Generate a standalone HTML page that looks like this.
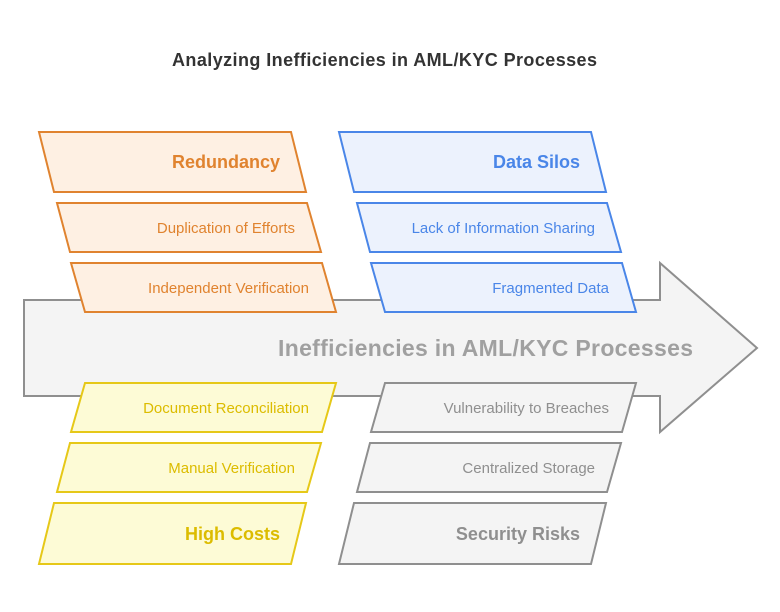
<!DOCTYPE html>
<html><head><meta charset="utf-8"><style>
html,body{margin:0;padding:0;background:#fff;}
svg{display:block;font-family:"Liberation Sans",Arial,sans-serif;}
</style></head><body>
<svg width="780" height="612" viewBox="0 0 780 612" xmlns="http://www.w3.org/2000/svg">
<text x="172" y="66" textLength="425" font-size="18" font-weight="bold" fill="#333">Analyzing Inefficiencies in AML/KYC Processes</text>
<polygon points="24,300 660,300 660,263 757,348 660,432 660,396 24,396" fill="#f4f4f4" stroke="#8f8f8f" stroke-width="2"/>
<text x="278" y="356" textLength="415" font-size="23" font-weight="bold" fill="#a0a0a0">Inefficiencies in AML/KYC Processes</text>
<g stroke="#e0832f" stroke-width="2" fill="#fef0e3">
<polygon points="39,132 291,132 306,192 54,192"/>
<polygon points="57,203 307,203 321,252 70,252"/>
<polygon points="71,263 322,263 336,312 85,312"/>
</g>
<g fill="#e0832f" text-anchor="end">
<text x="280" y="168" font-size="18" font-weight="bold">Redundancy</text>
<text x="295" y="233" font-size="15">Duplication of Efforts</text>
<text x="309" y="293" font-size="15">Independent Verification</text>
</g>
<g stroke="#4a86e8" stroke-width="2" fill="#ecf2fd">
<polygon points="339,132 591,132 606,192 354,192"/>
<polygon points="357,203 607,203 621,252 370,252"/>
<polygon points="371,263 622,263 636,312 385,312"/>
</g>
<g fill="#4a86e8" text-anchor="end">
<text x="580" y="168" font-size="18" font-weight="bold">Data Silos</text>
<text x="595" y="233" font-size="15">Lack of Information Sharing</text>
<text x="609" y="293" font-size="15">Fragmented Data</text>
</g>
<g stroke="#e6c818" stroke-width="2" fill="#fdfbd6">
<polygon points="85,383 336,383 322,432 71,432"/>
<polygon points="70,443 321,443 307,492 57,492"/>
<polygon points="54,503 306,503 291,564 39,564"/>
</g>
<g fill="#dcbc00" text-anchor="end">
<text x="309" y="413" font-size="15">Document Reconciliation</text>
<text x="295" y="473" font-size="15">Manual Verification</text>
<text x="280" y="540" font-size="18" font-weight="bold">High Costs</text>
</g>
<g stroke="#8f8f8f" stroke-width="2" fill="#f4f4f4">
<polygon points="385,383 636,383 622,432 371,432"/>
<polygon points="370,443 621,443 607,492 357,492"/>
<polygon points="354,503 606,503 591,564 339,564"/>
</g>
<g fill="#8f8f8f" text-anchor="end">
<text x="609" y="413" font-size="15">Vulnerability to Breaches</text>
<text x="595" y="473" font-size="15">Centralized Storage</text>
<text x="580" y="540" font-size="18" font-weight="bold">Security Risks</text>
</g>
</svg>
</body></html>
